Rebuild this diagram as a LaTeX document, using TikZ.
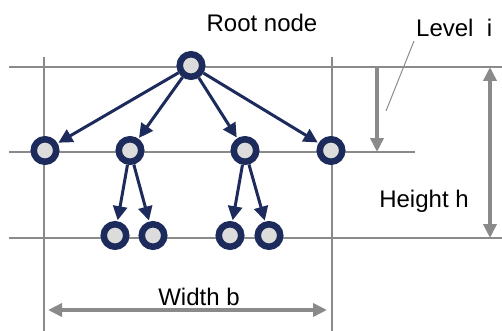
\documentclass[tikz,border=0pt]{standalone}
\usepackage{fontspec}
\setmainfont{Liberation Sans}
\usetikzlibrary{arrows.meta}
\definecolor{navy}{HTML}{1C2B5B}
\definecolor{ringfill}{HTML}{DCDCDC}
\definecolor{guide}{HTML}{8A8A8A}
\tikzset{
  treenode/.style={circle, draw=navy, fill=ringfill, line width=6.5pt, minimum size=22.5pt, inner sep=0pt},
  edge/.style={navy, line width=3pt, -{Triangle[length=14pt,width=14pt]}, shorten >=1pt},
  guideline/.style={guide, line width=1.6pt},
  dimarrow/.style={guide, line width=4pt, {Triangle[length=14pt,width=13pt]}-{Triangle[length=14pt,width=13pt]}},
  label/.style={font=\fontsize{24}{26}\selectfont, inner sep=0pt}
}
\begin{document}
\begin{tikzpicture}[x=1pt, y=-1pt]
\useasboundingbox (0,0) rectangle (502,331);
%%%%%%%%%%
% Guide lines (background)
%%%%%%%%%%
\draw[guideline] (9,67) -- (502,67);
\draw[guideline] (9,152) -- (415,152);
\draw[guideline] (9,238) -- (502,238);
\draw[guideline] (44,57) -- (44,331);
\draw[guideline] (332,57) -- (332,331);

%%%%%%%%%%
% Tree (foreground)
%%%%%%%%%%
\node[treenode] (root) at (191,65.5) {};
\foreach \n/\x in {a/45, b/130, c/245, d/331} {
  \node[treenode] (\n) at (\x,150.5) {};
  \draw[edge] (root) -- (\n);
}
\foreach \n/\x/\p in {ba/115/b, bb/153/b, ca/230/c, cb/269/c} {
  \node[treenode] (\n) at (\x,235.5) {};
  \draw[edge] (\p) -- (\n);
}

% Labels
\node[label] (rootlab) at (262,23) {Root node};
\node[label, anchor=west] (levlab) at (416,28) {Level\ \ i};
\node[label] (heightlab) at (424,201) {Height h};
\node[label] (widthlab) at (199,297) {Width b};

% Dimension arrows
\coordinate (lvtop) at (377,67);
\coordinate (lvbot) at (377,152);
\draw[guide, line width=4pt, -{Triangle[length=14pt,width=13pt]}] (lvtop) -- (lvbot);
\coordinate (htop) at (490,67);
\coordinate (hbot) at (490,238);
\draw[dimarrow] (htop) -- (hbot);
\coordinate (wl) at (48,310);
\coordinate (wr) at (327,310);
\draw[dimarrow] (wl) -- (wr);

% Leader from the level label
\coordinate (leadtop) at (414,41);
\coordinate (leadbot) at (386,111);
\draw[guide, line width=1pt] (leadtop) -- (leadbot);

\end{tikzpicture}
\end{document}
